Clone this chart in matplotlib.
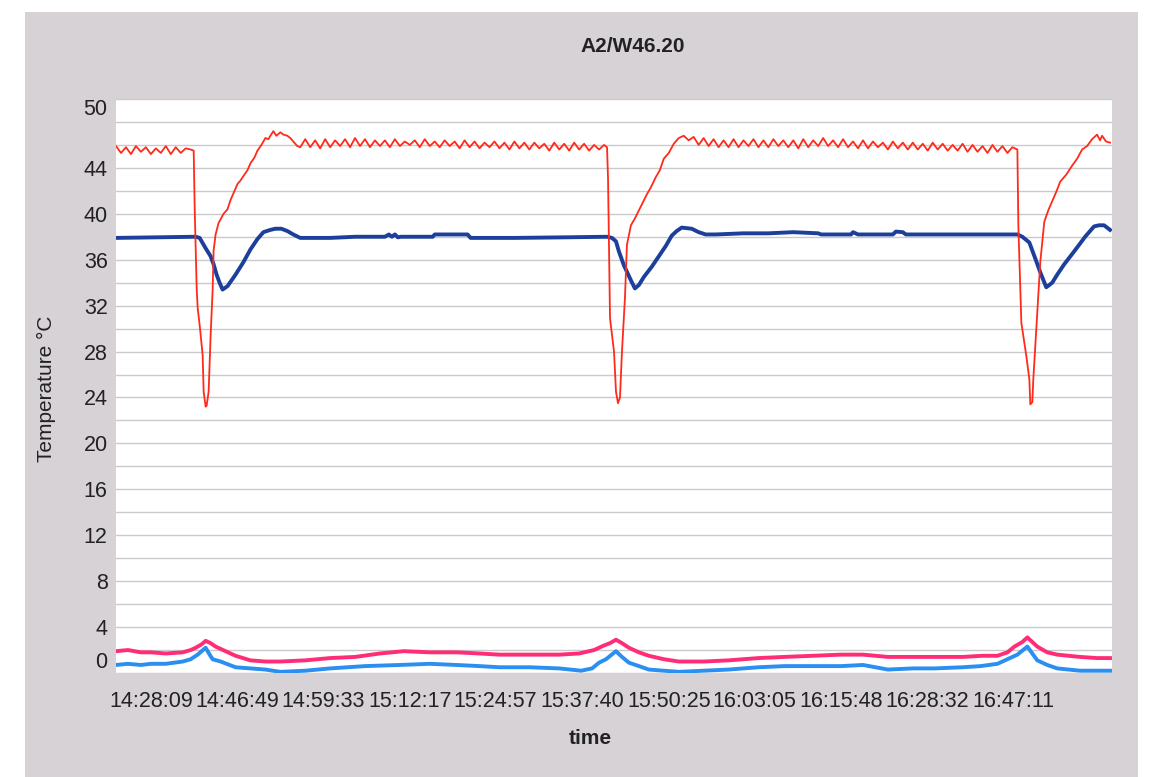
"""
Recreation of a scanned temperature log chart (A2/W46.20).
Four temperature traces against sample index, labelled with clock times.
"""

import matplotlib
matplotlib.use("Agg")
import matplotlib.pyplot as plt
import matplotlib.patches as mpatches

plt.rcParams["font.family"] = ["Liberation Sans", "DejaVu Sans"]

TITLE = "A2/W46.20"
X_LABEL = "time"
Y_LABEL = "Temperature °C"

# clock-time labels and the sample index they sit under
TIME_LABELS = ["14:28:09", "14:46:49", "14:59:33", "15:12:17", "15:24:57", "15:37:40",
               "15:50:25", "16:03:05", "16:15:48", "16:28:32", "16:47:11"]
TIME_POS = [35, 122, 208, 295, 381, 468, 555, 641, 728, 814, 901]

Y_TICKS = [0, 4, 8, 12, 16, 20, 24, 28, 32, 36, 40, 44, 50]

# ── red trace (hot side, with the three sharp drops) ─────────────────────────
RED_S = [0, 5, 10, 15, 20, 25, 30, 35, 40, 45, 50, 55, 60, 65, 70, 75,
         78, 79, 81, 82, 84, 87, 88, 90, 91, 93, 95, 97, 98, 100, 103, 108, 112, 115, 118,
         122, 125, 128, 132, 135, 139, 142, 146, 150, 153, 155, 158, 161, 165, 168, 172,
         175, 178, 182,
         185, 190, 195, 200, 205, 210, 215, 220, 225, 230, 235, 240, 245, 250, 255, 260,
         265, 270, 275, 280, 285, 290, 295, 300, 305, 310, 315, 320, 325, 330, 335, 340,
         345, 350, 355, 360, 365, 370, 375, 380, 385, 390, 395, 400, 405, 410, 415, 420,
         425, 430, 435, 440, 445, 450, 455, 460, 465, 470, 475, 480, 485, 490,
         493, 494, 495, 496, 500, 502, 504, 506, 508, 511, 513, 517, 521, 525, 529, 533,
         537, 542, 546, 550, 555, 560, 565, 570, 575, 580,
         585, 590, 595, 600, 605, 610, 615, 620, 625, 630, 635, 640, 645, 650, 655, 660,
         665, 670, 675, 680, 685, 690, 695, 700, 705, 710, 715, 720, 725, 730, 735, 740,
         745, 750, 755, 760, 765, 770, 775, 780, 785, 790, 795, 800, 805, 810, 815, 820,
         825, 830, 835, 840, 845, 850, 855, 860, 865, 870, 875, 880, 885, 890, 895, 900,
         905, 906, 909, 914, 917, 918, 920, 921, 924, 928, 932, 936, 940, 944, 948, 954,
         960, 965, 970, 975, 980, 985, 988, 990, 994, 998]
RED_T = [45.9, 45.3, 45.8, 45.2, 45.9, 45.4, 45.8, 45.2, 45.7, 45.3, 45.9, 45.2, 45.8, 45.3, 45.7, 45.6,
         45.5, 40.5, 33.5, 31.8, 30.3, 27.7, 24.5, 23.2, 23.3, 24.5, 29.4, 33.3, 36.8, 38.2, 39.2, 40.0, 40.4, 41.2, 41.8,
         42.6, 42.9, 43.3, 43.8, 44.4, 44.9, 45.5, 46.0, 46.6, 46.5, 46.8, 47.2, 46.8, 47.1, 46.9, 46.8,
         46.6, 46.3, 45.9,
         45.8, 46.5, 45.8, 46.4, 45.7, 46.5, 45.8, 46.4, 45.9, 46.5, 45.8, 46.6, 45.9, 46.5, 45.8, 46.4,
         45.9, 46.4, 45.8, 46.5, 45.9, 46.3, 46.0, 46.4, 45.8, 46.5, 45.9, 46.3, 45.8, 46.4, 45.9, 46.3,
         45.7, 46.4, 45.8, 46.3, 45.7, 46.2, 45.8, 46.3, 45.7, 46.2, 45.6, 46.3, 45.7, 46.2, 45.6, 46.2,
         45.7, 46.1, 45.5, 46.2, 45.6, 46.1, 45.5, 46.2, 45.6, 46.1, 45.5, 46.0, 45.6, 46.0,
         45.8, 43.1, 36.7, 30.9, 28.0, 24.5, 23.5, 24.0, 28.0, 32.7, 37.3, 39.0, 39.6, 40.3, 41.0, 41.7,
         42.3, 43.2, 43.8, 44.8, 45.3, 46.1, 46.6, 46.8, 46.4, 46.7,
         46.0, 46.6, 45.9, 46.5, 45.8, 46.4, 45.8, 46.5, 45.8, 46.4, 45.9, 46.5, 45.8, 46.4, 45.8, 46.5,
         45.9, 46.4, 45.8, 46.4, 45.7, 46.5, 45.8, 46.4, 45.9, 46.6, 45.9, 46.4, 45.8, 46.5, 45.8, 46.3,
         45.7, 46.4, 45.7, 46.3, 45.8, 46.2, 45.6, 46.3, 45.7, 46.2, 45.6, 46.2, 45.6, 46.1, 45.5, 46.2,
         45.6, 46.1, 45.5, 46.0, 45.5, 46.1, 45.4, 46.0, 45.4, 45.9, 45.3, 46.0, 45.4, 45.9, 45.3, 45.8,
         45.6, 38.9, 30.5, 27.6, 25.6, 23.4, 23.6, 25.6, 30.0, 35.8, 39.3, 40.3, 41.1, 41.9, 42.8, 43.4,
         44.2, 44.8, 45.6, 45.9, 46.5, 46.9, 46.4, 46.8, 46.3, 46.2]

# ── dark blue trace ──────────────────────────────────────────────────────────
BLUE_S = [0, 40, 80, 84, 90, 95, 98, 101, 104, 107, 112, 120, 128, 135, 142, 148, 155, 160, 166, 172,
          178, 185, 200, 215, 240, 270, 274, 277, 280, 283, 286, 318, 320, 353, 356, 400, 450, 493, 498, 502,
          505, 510, 517, 521, 525, 530, 538, 545, 552, 558, 563, 568, 578, 585, 592, 602, 630, 655, 680, 705,
          708, 738, 740, 745, 780, 783, 790, 793, 850, 905, 910, 917, 923, 928, 934, 940, 945, 952, 960, 967,
          973, 978, 982, 987, 992, 998]
BLUE_T = [37.9, 37.95, 38.0, 37.9, 37.0, 36.3, 35.6, 34.7, 34.0, 33.4, 33.7, 34.7, 35.8, 36.9, 37.8, 38.4, 38.6, 38.7, 38.7, 38.5,
          38.2, 37.9, 37.9, 37.9, 38.0, 38.0, 38.2, 38.0, 38.2, 37.95, 38.0, 38.0, 38.2, 38.2, 37.9, 37.9, 37.95, 38.0, 37.9, 37.6,
          36.7, 35.5, 34.2, 33.5, 33.8, 34.5, 35.4, 36.3, 37.2, 38.1, 38.5, 38.8, 38.7, 38.4, 38.2, 38.2, 38.3, 38.3, 38.4, 38.3,
          38.2, 38.2, 38.4, 38.2, 38.2, 38.45, 38.4, 38.2, 38.2, 38.2, 38.0, 37.5, 36.1, 34.9, 33.6, 34.0, 34.7, 35.6, 36.5, 37.3,
          38.0, 38.5, 38.9, 39.0, 39.0, 38.6]

# ── pink and light blue traces near 0 °C ─────────────────────────────────────
PINK_S = [0, 12, 25, 35, 50, 67, 75, 80, 86, 90, 95, 100, 110, 120, 135, 150, 165, 190, 215, 240,
          265, 289, 315, 342, 365, 385, 415, 445, 465, 480, 490, 496, 502, 508, 515, 525, 535, 550, 565, 590,
          615, 645, 671, 700, 728, 750, 775, 800, 822, 850, 870, 885, 895, 902, 910, 915, 920, 925, 935, 945,
          968, 985, 998]
PINK_T = [1.9, 2.0, 1.8, 1.8, 1.7, 1.8, 2.0, 2.2, 2.5, 2.8, 2.6, 2.3, 1.9, 1.5, 1.1, 1.0, 1.0, 1.1, 1.3, 1.4,
          1.7, 1.9, 1.8, 1.8, 1.7, 1.6, 1.6, 1.6, 1.7, 2.0, 2.4, 2.6, 2.9, 2.6, 2.2, 1.8, 1.5, 1.2, 1.0, 1.0,
          1.1, 1.3, 1.4, 1.5, 1.6, 1.6, 1.4, 1.4, 1.4, 1.4, 1.5, 1.5, 1.8, 2.3, 2.7, 3.1, 2.7, 2.3, 1.8, 1.6,
          1.4, 1.3, 1.3]

LBLUE_S = [0, 12, 25, 35, 50, 67, 75, 82, 86, 90, 94, 97, 105, 120, 135, 150, 165, 190, 215, 250,
           285, 315, 342, 365, 385, 415, 445, 467, 478, 485, 492, 502, 508, 515, 525, 535, 550, 565, 590, 615,
           645, 671, 700, 728, 750, 775, 800, 822, 850, 868, 885, 895, 905, 915, 920, 925, 935, 945, 968, 985,
           998]
LBLUE_T = [0.7, 0.8, 0.7, 0.8, 0.8, 1.0, 1.2, 1.6, 1.9, 2.2, 1.6, 1.2, 1.0, 0.5, 0.4, 0.3, 0.1, 0.2, 0.4, 0.6,
           0.7, 0.8, 0.7, 0.6, 0.5, 0.5, 0.4, 0.2, 0.4, 0.9, 1.2, 1.9, 1.4, 0.9, 0.6, 0.3, 0.2, 0.1, 0.2, 0.3,
           0.5, 0.6, 0.6, 0.6, 0.7, 0.3, 0.4, 0.4, 0.5, 0.6, 0.8, 1.2, 1.6, 2.3, 1.7, 1.1, 0.7, 0.4, 0.2, 0.2,
           0.2]

W, H = 1152, 777
TEXT_C = "#222222"

fig = plt.figure(figsize=(W / 100, H / 100), dpi=100)
fig.patch.set_facecolor("white")

# grey panel behind the chart (scanned page has a white margin around it)
panel = mpatches.Rectangle((25 / W, 0), (1138 - 25) / W, 1 - 12 / H,
                           transform=fig.transFigure, facecolor="#d6d2d6",
                           edgecolor="none", zorder=-1)
fig.add_artist(panel)

ax = fig.add_axes([116 / W, 1 - 673 / H, (1112 - 116) / W, (673 - 99) / H])
ax.set_facecolor("white")
for sp in ax.spines.values():
    sp.set_visible(False)

ax.plot(LBLUE_S, LBLUE_T, color="#2a8ff0", lw=2.8, zorder=3)
ax.plot(PINK_S, PINK_T, color="#ff2d78", lw=2.8, zorder=3)
ax.plot(BLUE_S, BLUE_T, color="#1d3f9c", lw=2.8, zorder=4)
ax.plot(RED_S, RED_T, color="#ff2a1a", lw=1.3, zorder=5)

ax.set_xlim(0, 1000)
ax.set_ylim(0, 50)
ax.set_yticks(Y_TICKS)
ax.set_yticks(range(0, 51, 2), minor=True)
ax.set_xticks(TIME_POS)
ax.set_xticklabels(TIME_LABELS)
ax.grid(axis="y", which="both", color="#cacaca", lw=1.0)
ax.set_axisbelow(True)
ax.tick_params(axis="both", which="both", length=0, labelsize=15.5, colors=TEXT_C)
ax.tick_params(axis="y", pad=6)
ax.tick_params(axis="x", pad=13)

ylabels = ax.get_yticklabels()
ylabels[0].set_va("bottom")
ylabels[-1].set_va("top")

fig.text(633 / W, 1 - 47 / H, TITLE, ha="center", va="center",
         fontsize=15, fontweight="bold", color=TEXT_C)
fig.text(590 / W, 1 - 738 / H, X_LABEL, ha="center", va="center",
         fontsize=15, fontweight="bold", color=TEXT_C)
fig.text(46 / W, 1 - 389 / H, Y_LABEL, ha="center", va="center",
         rotation=90, fontsize=15, color=TEXT_C)

fig.savefig("out.png", dpi=100)
